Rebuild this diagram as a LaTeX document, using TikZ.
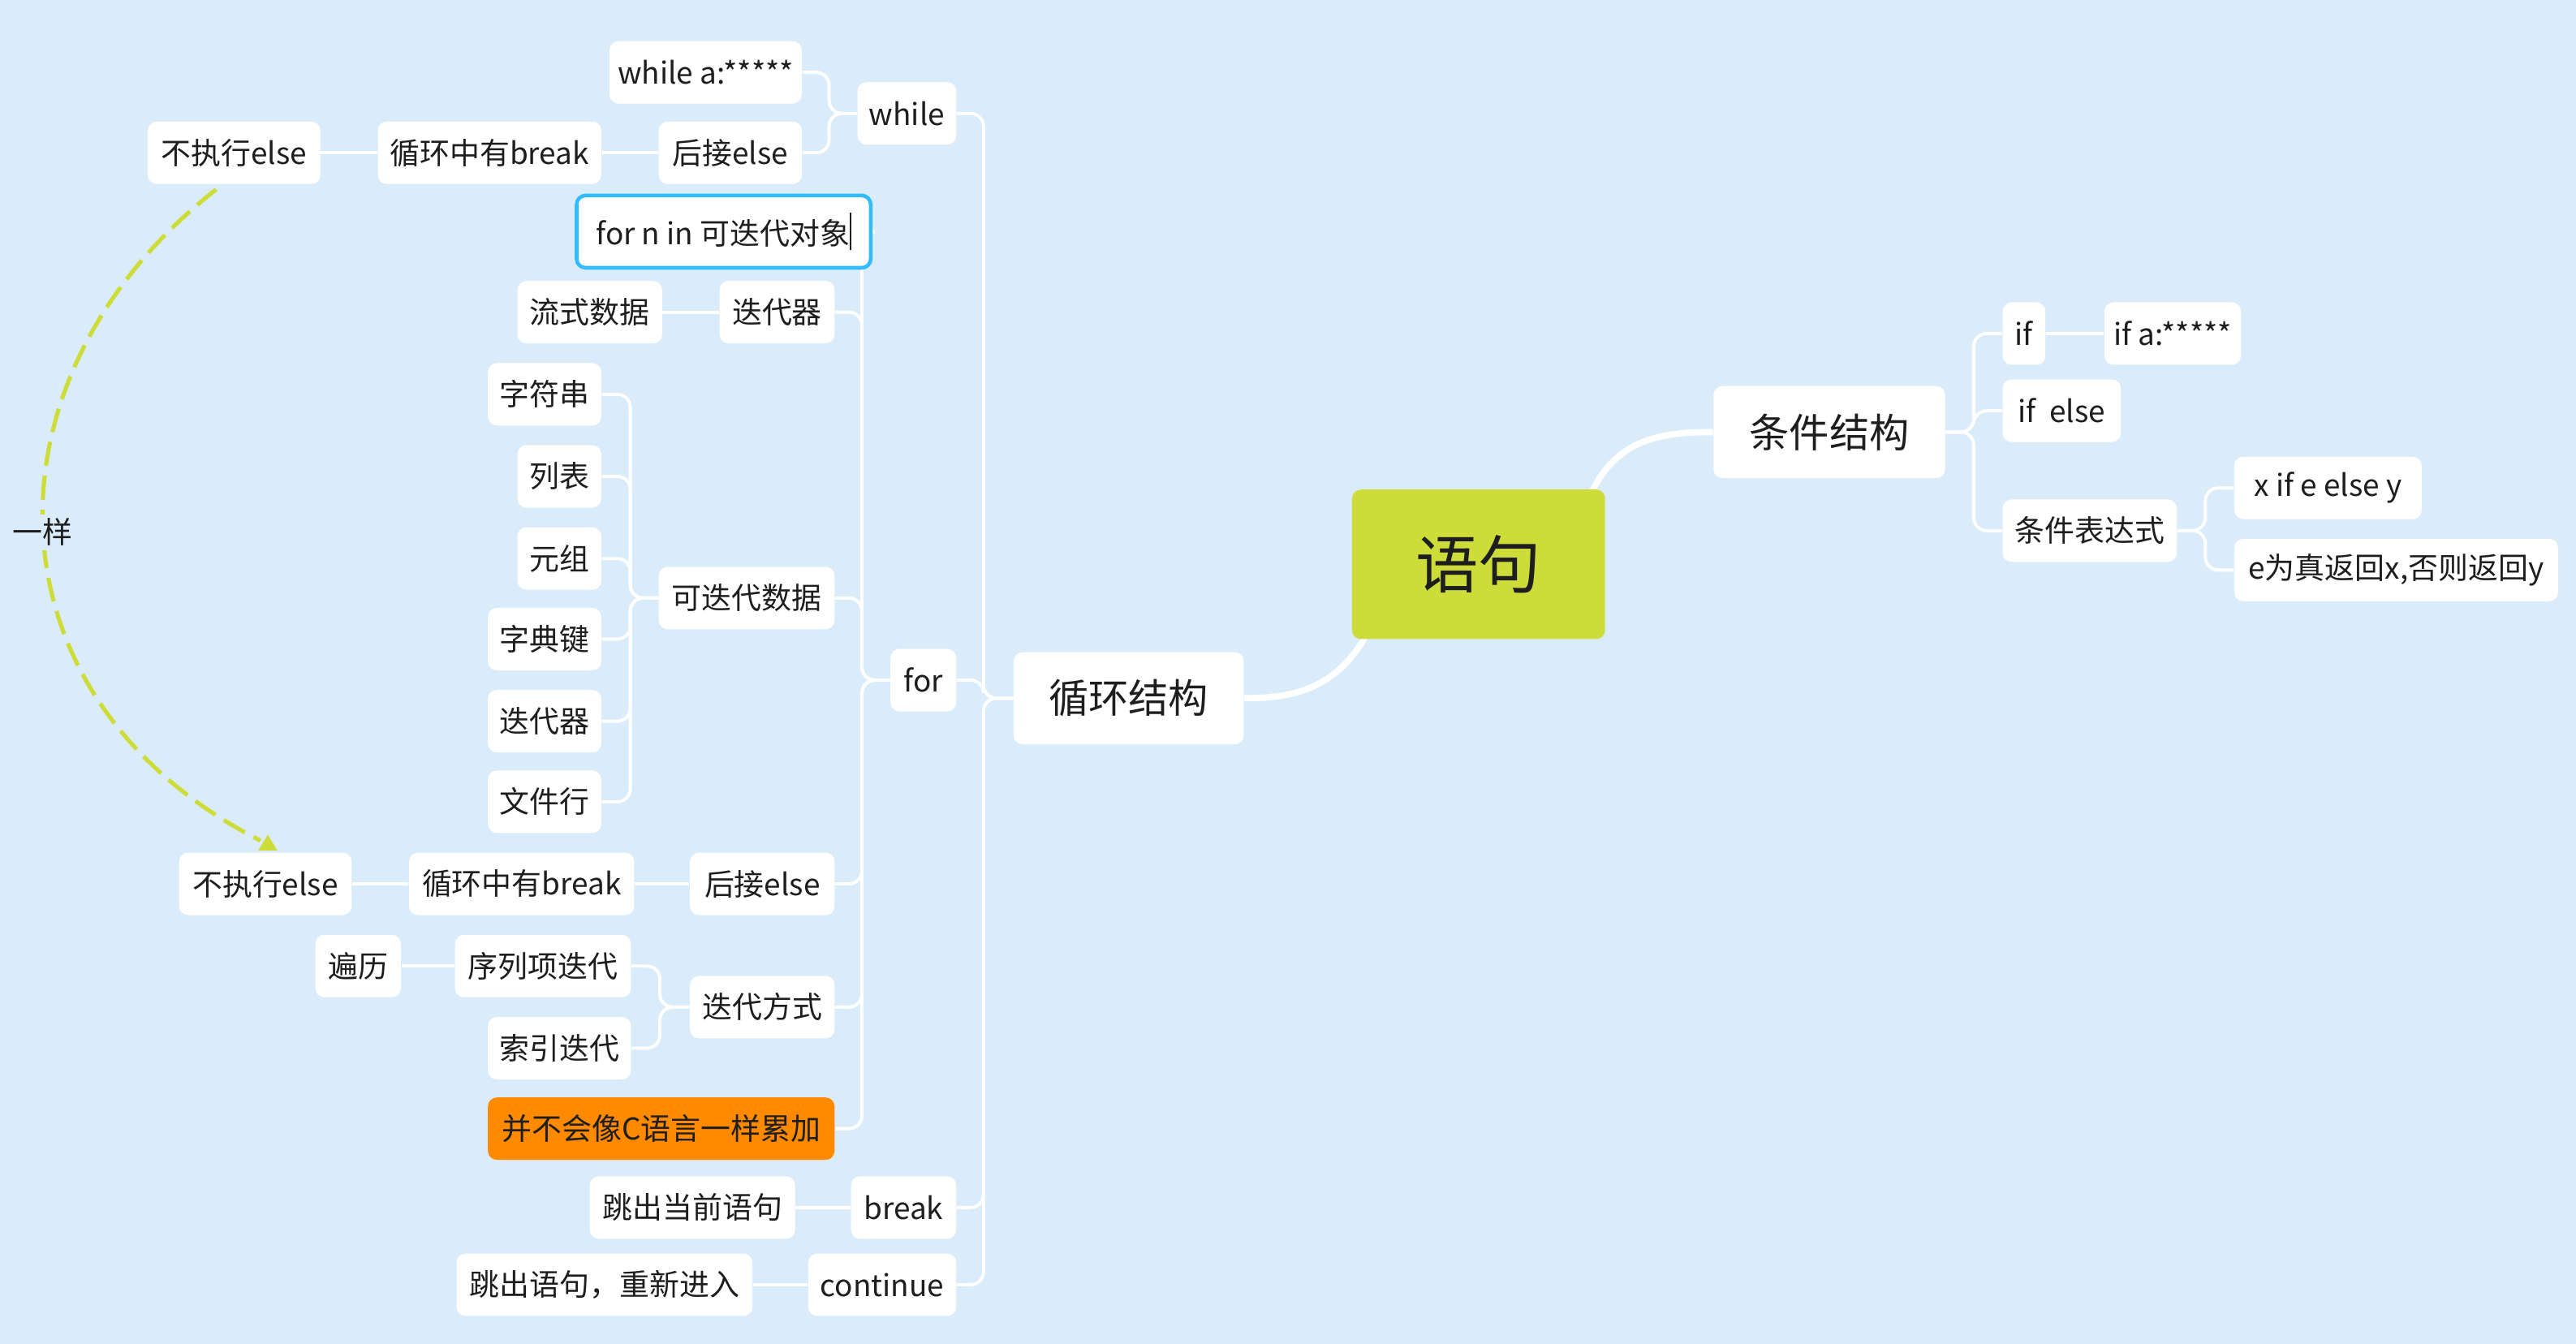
\documentclass[tikz,border=0pt]{standalone}
\usepackage{fontspec}
\setmainfont{Noto Sans CJK SC}
\usetikzlibrary{calc,arrows.meta}
\definecolor{bgc}{HTML}{DAECFA}
\definecolor{rootc}{HTML}{CDDC39}
\definecolor{orangec}{HTML}{FF8A00}
\definecolor{bluec}{HTML}{33BBFF}
\definecolor{txt}{HTML}{1E1E1E}
\definecolor{dashc}{HTML}{CDDC39}
\pgfdeclarelayer{bg}\pgfdeclarelayer{edges}\pgfsetlayers{bg,edges,main}
\newcommand\lk[3]{\draw[br] (#1.west) -- ++(-#3,0) |- (#2.east);}
\newcommand\rk[3]{\draw[br] (#1.east) -- ++(#3,0) |- (#2.west);}
\newcommand\st[2]{\draw[br] (#1) -- (#2);}
\begin{document}
\begin{tikzpicture}[x=0.2024mm,y=-0.2024mm,
 box/.style={fill=white, rounded corners=1.1mm, inner sep=0pt, text=txt,
   font=\fontsize{10.5}{12}\selectfont, minimum height=38*0.2024mm},
 bw/.style={minimum width=#1*0.2024mm},
 bh/.style={minimum height=#1*0.2024mm},
 big/.style={font=\fontsize{14}{16}\selectfont},
 br/.style={draw=white, line width=1.1pt, rounded corners=1.6mm},
 mainlink/.style={draw=white, line width=2.2pt},
 rel/.style={dashc, line width=1.45pt, dash pattern=on 8.5pt off 3.5pt},
]
\useasboundingbox (0,0) rectangle (1568,818);
\begin{pgfonlayer}{bg}
\fill[bgc] (0,0) rectangle (1568,818);
\end{pgfonlayer}

% root and level 1
\node[box,bw=154,bh=91,fill=rootc,font=\fontsize{22}{26}\selectfont] (root) at (900,343.5) {语句};
\node[box,bw=140,bh=56,big] (loop) at (687,425) {循环结构};
\node[box,bw=141,bh=56,big] (cond) at (1113.5,263) {条件结构};

% right side
\node[box,bw=26] (if) at (1232,203) {if};
\node[box,bw=83] (ifa) at (1322.5,203) {if a:*****};
\node[box,bw=72] (ifelse) at (1255,250) {if\ \ else};
\node[box,bw=106] (cexp) at (1272,323) {条件表达式};
\node[box,bw=114] (xif) at (1417,297) {x if e else y};
\node[box,bw=197] (eret) at (1458.5,347) {e为真返回x,否则返回y};

% left side
\node[box,bw=60] (while) at (552,69) {while};
\node[box,bw=117] (wa) at (429.5,44) {while a:*****};
\node[box,bw=87] (we) at (444.5,93) {后接else};
\node[box,bw=136] (wb) at (298,93) {循环中有break};
\node[box,bw=105] (wn) at (142.5,93) {不执行else};
\node[box,bw=40] (for) at (562,414) {for};
\node[box,bw=179,bh=44,draw=bluec,line width=1.3pt] (fn) at (440.5,141) {for n in 可迭代对象\rule[-0.35ex]{0.5pt}{2.3ex}};
\node[box,bw=70] (it) at (473,190) {迭代器};
\node[box,bw=88] (stream) at (359,190) {流式数据};
\node[box,bw=107] (idata) at (454.5,364) {可迭代数据};
\node[box,bw=69] (s1) at (331.5,240) {字符串};
\node[box,bw=51] (s2) at (340.5,290) {列表};
\node[box,bw=51] (s3) at (340.5,340) {元组};
\node[box,bw=69] (s4) at (331.5,389) {字典键};
\node[box,bw=69] (s5) at (331.5,439) {迭代器};
\node[box,bw=69] (s6) at (331.5,488) {文件行};
\node[box,bw=88] (fe) at (464,538) {后接else};
\node[box,bw=137] (fb) at (317.5,538) {循环中有break};
\node[box,bw=105] (fnx) at (161.5,538) {不执行else};
\node[box,bw=88] (way) at (464,613) {迭代方式};
\node[box,bw=107] (seq) at (330.5,588) {序列项迭代};
\node[box,bw=52] (trav) at (218,588) {遍历};
\node[box,bw=87] (idx) at (340.5,638) {索引迭代};
\node[box,bw=211,fill=orangec] (noacc) at (402.5,687) {并不会像C语言一样累加};
\node[box,bw=64] (brk) at (550,735) {break};
\node[box,bw=125] (brkd) at (421.5,735) {跳出当前语句};
\node[box,bw=90] (cont) at (537,782) {continue};
\node[box,bw=180] (contd) at (368,782) {跳出语句，重新进入};

\begin{pgfonlayer}{edges}
\draw[mainlink] ($(root.south west)+(8,-1)$) .. controls ($(root.south west)+(-11,31)$) and ($(loop.east)+(28,0)$) .. (loop.east);
\draw[mainlink] ($(root.north east)+(-8,1)$) .. controls ($(root.north east)+(8,-32)$) and ($(cond.west)+(-28,0)$) .. (cond.west);
\lk{loop}{while}{18}\lk{loop}{for}{18}\lk{loop}{brk}{18}\lk{loop}{cont}{18}
\lk{while}{wa}{17}\lk{while}{we}{17}
\st{we.west}{wb.east}\st{wb.west}{wn.east}
\lk{for}{fn}{17}\lk{for}{it}{17}\lk{for}{idata}{17}\lk{for}{fe}{17}\lk{for}{way}{17}\lk{for}{noacc}{17}
\st{it.west}{stream.east}
\lk{idata}{s1}{17}\lk{idata}{s2}{17}\lk{idata}{s3}{17}\lk{idata}{s4}{17}\lk{idata}{s5}{17}\lk{idata}{s6}{17}
\st{fe.west}{fb.east}\st{fb.west}{fnx.east}
\lk{way}{seq}{18}\lk{way}{idx}{18}
\st{seq.west}{trav.east}
\st{brk.west}{brkd.east}\st{cont.west}{contd.east}
\rk{cond}{if}{17}\rk{cond}{ifelse}{17}\rk{cond}{cexp}{17}
\st{if.east}{ifa.west}
\rk{cexp}{xif}{17}\rk{cexp}{eret}{17}
\end{pgfonlayer}

\coordinate (tipbase) at ($(fnx.north)+(1.5,-1)$);
\draw[rel]
 ($(wn.south)+(-11,3)$) .. controls (-15,230) and (-12,425) .. ($(fnx.north)+(-3,-7)$)
 node[pos=0.5, fill=bgc, inner sep=1.5pt, text=txt, font=\fontsize{10.5}{12}\selectfont] (same) {一样};
\fill[dashc] ($(tipbase)+(0,-9.5)$) -- ($(tipbase)+(-5.8,0)$) -- ($(tipbase)+(5.8,0)$) -- cycle;
\end{tikzpicture}
\end{document}
